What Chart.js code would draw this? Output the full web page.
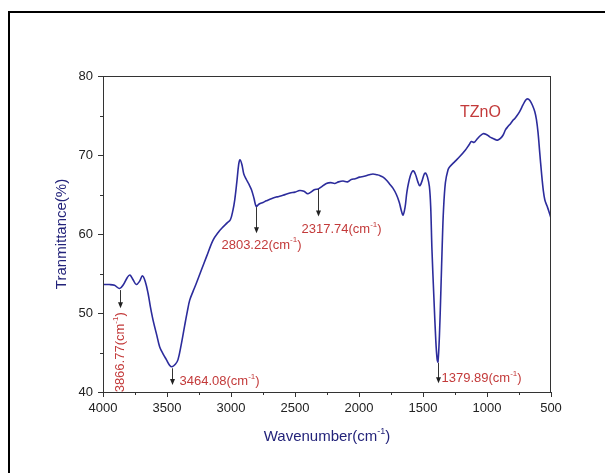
<!DOCTYPE html>
<html>
<head>
<meta charset="utf-8">
<script src="https://cdn.jsdelivr.net/npm/chart.js@4"></script>
<style>
  html, body { margin: 0; padding: 0; background: #fff; }
  #wrap { position: relative; width: 605px; height: 473px; }
</style>
</head>
<body>
<div id="wrap"><canvas id="ftir" width="605" height="473"></canvas></div>
<script>
// FTIR spectrum of TZnO
const wavenumbers = [
  4000, 3950, 3910, 3870, 3840, 3810, 3790, 3765, 3740, 3715, 3692, 3670, 3648, 3630, 3609,
  3580, 3557, 3530, 3505, 3480, 3460, 3435, 3414, 3390, 3362, 3340, 3323, 3295, 3270, 3230,
  3192, 3141, 3100, 3062, 3030, 3005, 2985, 2971, 2955, 2940, 2930, 2915, 2900, 2880, 2860,
  2840, 2820, 2803, 2780, 2750, 2724, 2680, 2640, 2594, 2540, 2500, 2463, 2430, 2400, 2385,
  2350, 2320, 2300, 2255, 2220, 2190, 2160, 2125, 2090, 2060, 2030, 1995, 1960, 1920, 1891,
  1860, 1838, 1812, 1785, 1760, 1735, 1708, 1685, 1670, 1656, 1640, 1625, 1600, 1578, 1560,
  1540, 1526, 1510, 1490, 1479, 1465, 1450, 1440, 1430, 1415, 1400, 1390, 1383, 1372, 1360,
  1350, 1340, 1325, 1305, 1291, 1250, 1213, 1170, 1140, 1122, 1100, 1083, 1055, 1031, 1005,
  979, 953, 927, 914, 895, 875, 855, 836, 815, 797, 784, 765, 745, 720, 700,
  684, 665, 645, 627, 614, 601, 588, 574, 560, 548, 530, 515, 500
]
const transmittance = [
  53.6, 53.6, 53.5, 53.1, 53.6, 54.5, 54.8, 54.2, 53.6, 54.0, 54.7, 54.0, 52.5, 50.8, 49.1,
  47.2, 45.7, 44.8, 44.1, 43.4, 43.2, 43.5, 44.1, 45.9, 48.4, 50.3, 51.6, 52.8, 53.8, 55.5,
  57.1, 59.2, 60.2, 60.9, 61.4, 61.8, 63.0, 64.3, 66.5, 68.8, 69.4, 68.8, 67.6, 66.9, 66.3,
  65.6, 64.5, 63.5, 63.8, 64.0, 64.2, 64.5, 64.7, 64.9, 65.2, 65.3, 65.5, 65.4, 65.1, 65.2,
  65.6, 65.7, 65.9, 66.4, 66.5, 66.4, 66.6, 66.7, 66.6, 66.9, 67.0, 67.2, 67.3, 67.5, 67.6,
  67.5, 67.4, 67.2, 66.8, 66.3, 65.8, 65.0, 64.0, 63.0, 62.4, 63.4, 65.4, 67.3, 68.0, 67.6,
  66.6, 66.1, 66.6, 67.6, 67.7, 67.2, 66.0, 63.5, 58.0, 52.0, 46.5, 44.2, 43.8, 47.0, 53.0,
  58.5, 63.0, 66.5, 68.1, 68.5, 69.2, 69.8, 70.6, 71.3, 71.7, 71.6, 71.9, 72.4, 72.7, 72.6,
  72.3, 72.1, 71.9, 71.9, 72.1, 72.5, 73.2, 73.6, 74.0, 74.4, 74.6, 75.0, 75.5, 76.3, 76.9,
  77.1, 76.9, 76.3, 75.5, 74.5, 72.8, 70.3, 67.7, 65.5, 64.3, 63.5, 62.8, 62.0
]
const xTicks = [4000, 3500, 3000, 2500, 2000, 1500, 1000, 500]
const yTicks = [40, 50, 60, 70, 80]

// marked bands: wavenumber, arrow start and end (in % transmittance)
const peakWavenumbers = [3866.77, 3464.08, 2803.22, 2317.74, 1379.89]
const arrowFrom = [52.9, 43.0, 63.4, 65.7, 43.7]
const arrowTo = [50.6, 40.9, 60.1, 62.2, 41.1]

// where each label sits relative to its arrow tip
const labelPlace = [
  { rotate: true, dx: 0, dy: 4 },
  { align: 'left', dx: 7, dy: -3 },
  { align: 'center', dx: 5, dy: 12 },
  { align: 'left', dx: -17, dy: 13 },
  { align: 'left', dx: 3, dy: -5 }
]

const RED = '#c33a3a'
const NAVY = '#23237a'
const FONT = 'Arial, "Liberation Sans", sans-serif'

// text like "1234(cm" + superscript "-1" + ")"
function drawCm(ctx, base, x, y, size, align, color) {
  const big = `${size}px ${FONT}`
  const small = `${Math.round(size * 0.62)}px ${FONT}`
  ctx.font = big
  const w1 = ctx.measureText(base + '(cm').width
  const w3 = ctx.measureText(')').width
  ctx.font = small
  const w2 = ctx.measureText('-1').width
  const total = w1 + w2 + w3
  let sx = x
  if (align === 'center') sx = x - total / 2
  if (align === 'right') sx = x - total
  ctx.fillStyle = color
  ctx.textBaseline = 'middle'
  ctx.textAlign = 'left'
  ctx.font = big
  ctx.fillText(base + '(cm', sx, y)
  ctx.font = small
  ctx.fillText('-1', sx + w1, y - size * 0.38)
  ctx.font = big
  ctx.fillText(')', sx + w1 + w2, y)
}

const decorations = {
  id: 'decorations',
  afterDraw(chart) {
    const { ctx, chartArea: a, scales: { x, y } } = chart
    ctx.save()

    // page frame (top and left only are visible)
    ctx.strokeStyle = '#000'
    ctx.lineWidth = 2
    ctx.beginPath()
    ctx.moveTo(9, 473)
    ctx.lineTo(9, 12)
    ctx.lineTo(605, 12)
    ctx.stroke()

    // plot box
    ctx.strokeStyle = '#333'
    ctx.lineWidth = 1
    ctx.strokeRect(a.left + 0.5, a.top + 0.5, a.right - a.left - 1, a.bottom - a.top)

    // minor ticks halfway between majors
    ctx.beginPath()
    for (let i = 0; i < xTicks.length - 1; i++) {
      const px = Math.round(x.getPixelForValue((xTicks[i] + xTicks[i + 1]) / 2)) + 0.5
      ctx.moveTo(px, a.bottom)
      ctx.lineTo(px, a.bottom + 3)
    }
    for (let i = 0; i < yTicks.length - 1; i++) {
      const py = Math.round(y.getPixelForValue((yTicks[i] + yTicks[i + 1]) / 2)) + 0.5
      ctx.moveTo(a.left, py)
      ctx.lineTo(a.left - 3, py)
    }
    ctx.stroke()

    // arrows and band labels
    peakWavenumbers.forEach((wn, i) => {
      const px = Math.round(x.getPixelForValue(wn)) + 0.5
      const y0 = y.getPixelForValue(arrowFrom[i])
      const y1 = y.getPixelForValue(arrowTo[i])
      ctx.strokeStyle = '#333'
      ctx.fillStyle = '#222'
      ctx.lineWidth = 1
      ctx.beginPath()
      ctx.moveTo(px, y0)
      ctx.lineTo(px, y1 - 5)
      ctx.stroke()
      ctx.beginPath()
      ctx.moveTo(px - 2.5, y1 - 6)
      ctx.lineTo(px + 2.5, y1 - 6)
      ctx.lineTo(px, y1)
      ctx.closePath()
      ctx.fill()

      const p = labelPlace[i]
      const text = wn.toFixed(2)
      if (p.rotate) {
        ctx.save()
        ctx.translate(px + p.dx, y1 + p.dy)
        ctx.rotate(-Math.PI / 2)
        drawCm(ctx, text, 0, 0, 13, 'right', RED)
        ctx.restore()
      } else {
        drawCm(ctx, text, px + p.dx, y1 + p.dy, 13, p.align, RED)
      }
    })

    // sample name
    ctx.fillStyle = RED
    ctx.font = `16px ${FONT}`
    ctx.textAlign = 'left'
    ctx.textBaseline = 'middle'
    ctx.fillText('TZnO', 460, 113)

    // axis titles
    ctx.fillStyle = NAVY
    ctx.font = `15px ${FONT}`
    ctx.save()
    ctx.translate(62, (a.top + a.bottom) / 2)
    ctx.rotate(-Math.PI / 2)
    ctx.textAlign = 'center'
    ctx.fillText('Tranmittance(%)', 0, 0)
    ctx.restore()
    drawCm(ctx, 'Wavenumber', (a.left + a.right) / 2, 437, 15, 'center', NAVY)

    ctx.restore()
  }
}

new Chart(document.getElementById('ftir'), {
  type: 'line',
  data: {
    datasets: [{
      data: wavenumbers.map((wn, i) => ({ x: wn, y: transmittance[i] })),
      borderColor: '#2c2c9c',
      borderWidth: 1.6,
      pointRadius: 0,
      tension: 0.35,
      fill: false
    }]
  },
  options: {
    responsive: false,
    animation: false,
    layout: { padding: { top: 76, right: 54, left: 0, bottom: 0 } },
    plugins: { legend: { display: false }, tooltip: { enabled: false } },
    scales: {
      x: {
        type: 'linear',
        reverse: true,
        min: 500,
        max: 4000,
        afterBuildTicks: s => { s.ticks = xTicks.map(v => ({ value: v })) },
        afterFit: s => { s.height = 81 },
        grid: { display: true, drawOnChartArea: false, drawTicks: true, tickLength: 5, color: '#333' },
        border: { display: true, color: '#333' },
        ticks: {
          color: '#222', font: { family: FONT, size: 13 }, padding: 4, maxRotation: 0, autoSkip: false,
          callback: v => String(v)
        }
      },
      y: {
        min: 40,
        max: 80,
        afterBuildTicks: s => { s.ticks = yTicks.map(v => ({ value: v })) },
        afterFit: s => { s.width = 103 },
        grid: { display: true, drawOnChartArea: false, drawTicks: true, tickLength: 5, color: '#333' },
        border: { display: true, color: '#333' },
        ticks: { color: '#222', font: { family: FONT, size: 13 }, padding: 5, callback: v => String(v) }
      }
    }
  },
  plugins: [decorations]
})
</script>
</body>
</html>
